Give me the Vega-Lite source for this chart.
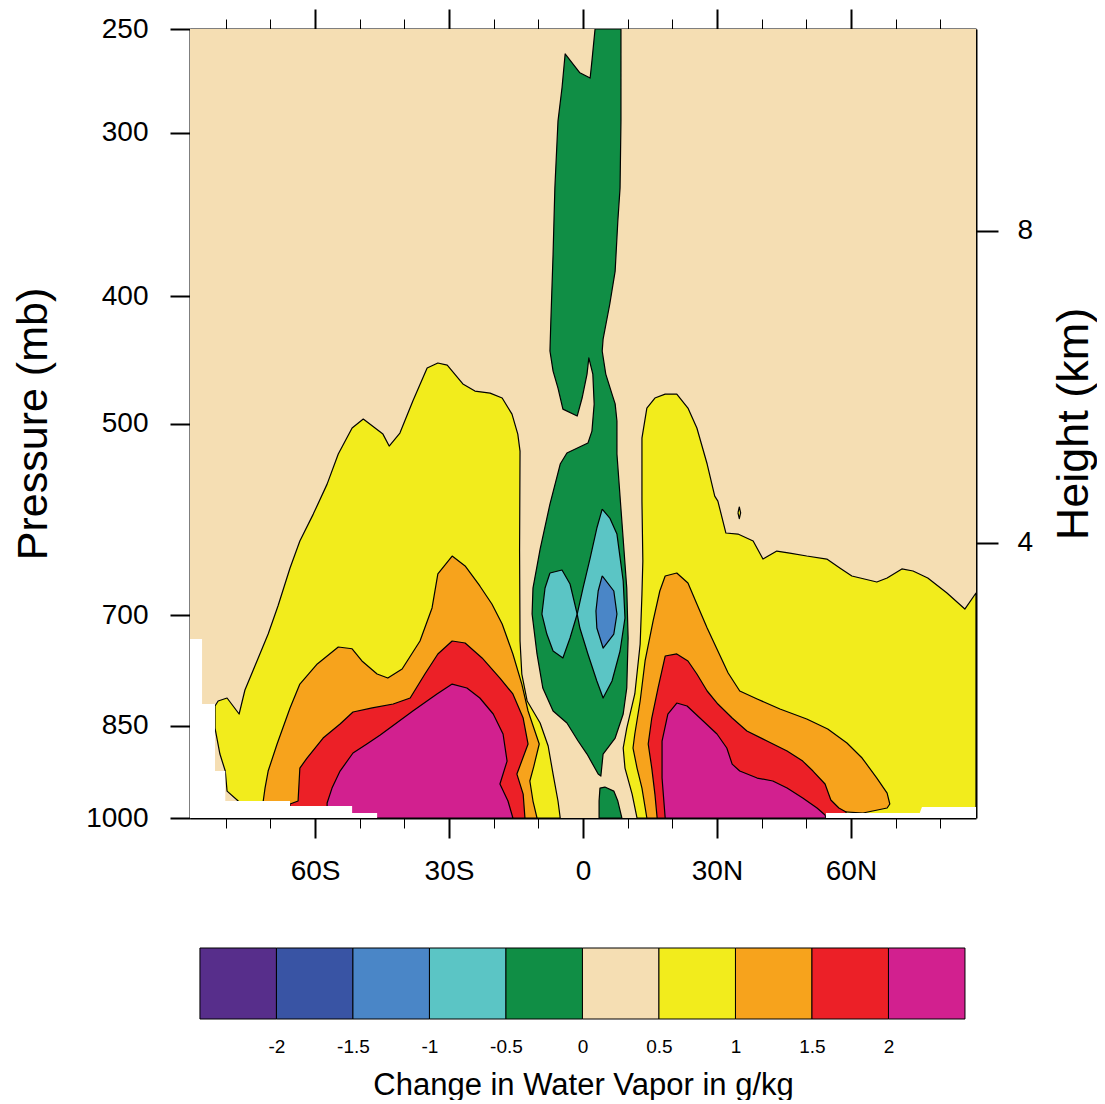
{
"$schema":"https://vega.github.io/schema/vega-lite/v6.json",
"padding":{"left":12,"top":8,"right":0,"bottom":0},
"background":"white",
"config":{"view":{"stroke":null},"font":"Liberation Sans","axis":{"labelColor":"black","titleColor":"black","tickColor":"black","domainColor":"black","grid":false}},
"datasets":{
"bg":[{"a":-88,"b":88,"p0":250,"p1":1000}],
"bins":[{"lo":-2.5,"hi":-2,"c":"purple"},{"lo":-2,"hi":-1.5,"c":"darkblue"},{"lo":-1.5,"hi":-1,"c":"blue"},{"lo":-1,"hi":-0.5,"c":"cyan"},{"lo":-0.5,"hi":0,"c":"green"},{"lo":0,"hi":0.5,"c":"wheat"},{"lo":0.5,"hi":1,"c":"yellow"},{"lo":1,"hi":1.5,"c":"orange"},{"lo":1.5,"hi":2,"c":"red"},{"lo":2,"hi":2.5,"c":"magenta"}],
"miss":[
{"id":"w1","i":0,"lat":-88,"p":730.1},{"id":"w1","i":1,"lat":-85.3,"p":730.1},{"id":"w1","i":2,"lat":-85.3,"p":818.5},{"id":"w1","i":3,"lat":-82.4,"p":818.5},{"id":"w1","i":4,"lat":-82.4,"p":920.8},{"id":"w1","i":5,"lat":-80.1,"p":920.8},{"id":"w1","i":6,"lat":-80.1,"p":970.6},{"id":"w1","i":7,"lat":-65.6,"p":970.6},{"id":"w1","i":8,"lat":-65.6,"p":979.1},{"id":"w1","i":9,"lat":-51.7,"p":979.1},{"id":"w1","i":10,"lat":-51.7,"p":991.3},{"id":"w1","i":11,"lat":-46.1,"p":991.3},{"id":"w1","i":12,"lat":-46.1,"p":1000},{"id":"w1","i":13,"lat":-88,"p":1000},
{"id":"w2","i":0,"lat":54.4,"p":991.3},{"id":"w2","i":1,"lat":75.4,"p":991.3},{"id":"w2","i":2,"lat":75.9,"p":980.8},{"id":"w2","i":3,"lat":88,"p":980.8},{"id":"w2","i":4,"lat":88,"p":1000},{"id":"w2","i":5,"lat":54.4,"p":1000}
],
"poly":[
{"id":"01","c":"yellow","i":0,"lat":-77.2,"p":1000},{"id":"01","c":"yellow","i":1,"lat":-77.2,"p":970.6},{"id":"01","c":"yellow","i":2,"lat":-79.7,"p":953.8},{"id":"01","c":"yellow","i":3,"lat":-80.1,"p":920.8},{"id":"01","c":"yellow","i":4,"lat":-81.3,"p":893.7},{"id":"01","c":"yellow","i":5,"lat":-82.4,"p":853.8},{"id":"01","c":"yellow","i":6,"lat":-82.4,"p":821.4},{"id":"01","c":"yellow","i":7,"lat":-81.7,"p":814.2},{"id":"01","c":"yellow","i":8,"lat":-79.7,"p":809.9},{"id":"01","c":"yellow","i":9,"lat":-77.0,"p":833.0},{"id":"01","c":"yellow","i":10,"lat":-75.7,"p":798.6},{"id":"01","c":"yellow","i":11,"lat":-73.0,"p":758.9},{"id":"01","c":"yellow","i":12,"lat":-70.5,"p":723.8},{"id":"01","c":"yellow","i":13,"lat":-68.3,"p":689.0},{"id":"01","c":"yellow","i":14,"lat":-65.6,"p":644.5},{"id":"01","c":"yellow","i":15,"lat":-63.4,"p":614.7},{"id":"01","c":"yellow","i":16,"lat":-60.4,"p":586.3},{"id":"01","c":"yellow","i":17,"lat":-57.3,"p":556.2},{"id":"01","c":"yellow","i":18,"lat":-54.8,"p":527.6},{"id":"01","c":"yellow","i":19,"lat":-51.7,"p":504.0},{"id":"01","c":"yellow","i":20,"lat":-49.2,"p":496.1},{"id":"01","c":"yellow","i":21,"lat":-44.8,"p":509.4},{"id":"01","c":"yellow","i":22,"lat":-43.4,"p":520.2},{"id":"01","c":"yellow","i":23,"lat":-41.0,"p":508.5},{"id":"01","c":"yellow","i":24,"lat":-38.1,"p":480.6},{"id":"01","c":"yellow","i":25,"lat":-34.9,"p":453.6},{"id":"01","c":"yellow","i":26,"lat":-32.5,"p":449.6},{"id":"01","c":"yellow","i":27,"lat":-30.4,"p":451.2},{"id":"01","c":"yellow","i":28,"lat":-26.9,"p":466.4},{"id":"01","c":"yellow","i":29,"lat":-24.2,"p":472.3},{"id":"01","c":"yellow","i":30,"lat":-20.8,"p":474.0},{"id":"01","c":"yellow","i":31,"lat":-18.1,"p":478.1},{"id":"01","c":"yellow","i":32,"lat":-15.9,"p":491.8},{"id":"01","c":"yellow","i":33,"lat":-14.6,"p":509.4},{"id":"01","c":"yellow","i":34,"lat":-14.1,"p":524.8},{"id":"01","c":"yellow","i":35,"lat":-14.2,"p":625.6},{"id":"01","c":"yellow","i":36,"lat":-14.1,"p":732.7},{"id":"01","c":"yellow","i":37,"lat":-13.7,"p":776.5},{"id":"01","c":"yellow","i":38,"lat":-12.5,"p":814.2},{"id":"01","c":"yellow","i":39,"lat":-9.6,"p":846.3},{"id":"01","c":"yellow","i":40,"lat":-7.8,"p":881.2},{"id":"01","c":"yellow","i":41,"lat":-6.7,"p":925.7},{"id":"01","c":"yellow","i":42,"lat":-5.6,"p":970.6},{"id":"01","c":"yellow","i":43,"lat":-5.1,"p":1000},{"id":"01","c":"yellow","i":44,"lat":-77.2,"p":1000},
{"id":"02","c":"yellow","i":0,"lat":12.1,"p":1000},{"id":"02","c":"yellow","i":1,"lat":11.0,"p":958.8},{"id":"02","c":"yellow","i":2,"lat":9.4,"p":916.0},{"id":"02","c":"yellow","i":3,"lat":9.0,"p":884.3},{"id":"02","c":"yellow","i":4,"lat":9.8,"p":853.8},{"id":"02","c":"yellow","i":5,"lat":11.6,"p":804.2},{"id":"02","c":"yellow","i":6,"lat":12.8,"p":736.6},{"id":"02","c":"yellow","i":7,"lat":13.2,"p":674.6},{"id":"02","c":"yellow","i":8,"lat":13.4,"p":636.7},{"id":"02","c":"yellow","i":9,"lat":13.2,"p":573.0},{"id":"02","c":"yellow","i":10,"lat":13.2,"p":513.0},{"id":"02","c":"yellow","i":11,"lat":14.3,"p":486.6},{"id":"02","c":"yellow","i":12,"lat":16.1,"p":478.1},{"id":"02","c":"yellow","i":13,"lat":18.4,"p":474.8},{"id":"02","c":"yellow","i":14,"lat":21.0,"p":474.8},{"id":"02","c":"yellow","i":15,"lat":23.5,"p":486.6},{"id":"02","c":"yellow","i":16,"lat":25.5,"p":504.0},{"id":"02","c":"yellow","i":17,"lat":27.8,"p":536.9},{"id":"02","c":"yellow","i":18,"lat":29.5,"p":568.0},{"id":"02","c":"yellow","i":19,"lat":30.2,"p":573.0},{"id":"02","c":"yellow","i":20,"lat":32.0,"p":606.1},{"id":"02","c":"yellow","i":21,"lat":34.7,"p":607.2},{"id":"02","c":"yellow","i":22,"lat":38.1,"p":614.7},{"id":"02","c":"yellow","i":23,"lat":40.3,"p":634.5},{"id":"02","c":"yellow","i":24,"lat":43.4,"p":625.6},{"id":"02","c":"yellow","i":25,"lat":46.3,"p":627.8},{"id":"02","c":"yellow","i":26,"lat":50.1,"p":631.1},{"id":"02","c":"yellow","i":27,"lat":54.6,"p":634.5},{"id":"02","c":"yellow","i":28,"lat":57.5,"p":644.5},{"id":"02","c":"yellow","i":29,"lat":60.2,"p":653.6},{"id":"02","c":"yellow","i":30,"lat":65.8,"p":660.6},{"id":"02","c":"yellow","i":31,"lat":68.1,"p":655.9},{"id":"02","c":"yellow","i":32,"lat":71.4,"p":645.6},{"id":"02","c":"yellow","i":33,"lat":73.9,"p":647.9},{"id":"02","c":"yellow","i":34,"lat":77.2,"p":655.9},{"id":"02","c":"yellow","i":35,"lat":81.5,"p":673.5},{"id":"02","c":"yellow","i":36,"lat":85.5,"p":692.7},{"id":"02","c":"yellow","i":37,"lat":88.0,"p":673.5},{"id":"02","c":"yellow","i":38,"lat":88.0,"p":1000},{"id":"02","c":"yellow","i":39,"lat":12.1,"p":1000},
{"id":"03","c":"yellow","i":0,"lat":34.7,"p":585},{"id":"03","c":"yellow","i":1,"lat":35.0,"p":579},{"id":"03","c":"yellow","i":2,"lat":35.3,"p":585},{"id":"03","c":"yellow","i":3,"lat":35.0,"p":591},{"id":"03","c":"yellow","i":4,"lat":34.7,"p":585},
{"id":"04","c":"orange","i":0,"lat":-71.6,"p":1000},{"id":"04","c":"orange","i":1,"lat":-71.6,"p":970.6},{"id":"04","c":"orange","i":2,"lat":-71.2,"p":948.8},{"id":"04","c":"orange","i":3,"lat":-70.5,"p":920.8},{"id":"04","c":"orange","i":4,"lat":-68.5,"p":878.1},{"id":"04","c":"orange","i":5,"lat":-65.6,"p":824.2},{"id":"04","c":"orange","i":6,"lat":-63.4,"p":790.3},{"id":"04","c":"orange","i":7,"lat":-59.5,"p":762.9},{"id":"04","c":"orange","i":8,"lat":-54.8,"p":740.5},{"id":"04","c":"orange","i":9,"lat":-51.7,"p":742.8},{"id":"04","c":"orange","i":10,"lat":-49.5,"p":758.9},{"id":"04","c":"orange","i":11,"lat":-46.1,"p":776.5},{"id":"04","c":"orange","i":12,"lat":-43.7,"p":782.0},{"id":"04","c":"orange","i":13,"lat":-40.5,"p":769.7},{"id":"04","c":"orange","i":14,"lat":-36.5,"p":732.7},{"id":"04","c":"orange","i":15,"lat":-33.8,"p":691.4},{"id":"04","c":"orange","i":16,"lat":-32.5,"p":651.3},{"id":"04","c":"orange","i":17,"lat":-29.3,"p":631.1},{"id":"04","c":"orange","i":18,"lat":-26.4,"p":642.2},{"id":"04","c":"orange","i":19,"lat":-23.1,"p":665.2},{"id":"04","c":"orange","i":20,"lat":-20.4,"p":686.6},{"id":"04","c":"orange","i":21,"lat":-18.1,"p":711.1},{"id":"04","c":"orange","i":22,"lat":-15.7,"p":749.6},{"id":"04","c":"orange","i":23,"lat":-13.7,"p":790.3},{"id":"04","c":"orange","i":24,"lat":-12.3,"p":828.6},{"id":"04","c":"orange","i":25,"lat":-9.8,"p":878.1},{"id":"04","c":"orange","i":26,"lat":-11.0,"p":912.8},{"id":"04","c":"orange","i":27,"lat":-11.9,"p":937.1},{"id":"04","c":"orange","i":28,"lat":-11.2,"p":970.6},{"id":"04","c":"orange","i":29,"lat":-10.3,"p":1000},{"id":"04","c":"orange","i":30,"lat":-71.6,"p":1000},
{"id":"05","c":"orange","i":0,"lat":14.3,"p":1000},{"id":"05","c":"orange","i":1,"lat":13.2,"p":948.8},{"id":"05","c":"orange","i":2,"lat":12.1,"p":916.0},{"id":"05","c":"orange","i":3,"lat":11.2,"p":884.3},{"id":"05","c":"orange","i":4,"lat":11.6,"p":862.8},{"id":"05","c":"orange","i":5,"lat":12.8,"p":814.2},{"id":"05","c":"orange","i":6,"lat":13.9,"p":758.9},{"id":"05","c":"orange","i":7,"lat":15.7,"p":707.4},{"id":"05","c":"orange","i":8,"lat":17.2,"p":671.1},{"id":"05","c":"orange","i":9,"lat":18.4,"p":653.6},{"id":"05","c":"orange","i":10,"lat":21.0,"p":650.2},{"id":"05","c":"orange","i":11,"lat":23.5,"p":661.7},{"id":"05","c":"orange","i":12,"lat":25.5,"p":686.6},{"id":"05","c":"orange","i":13,"lat":27.8,"p":716.2},{"id":"05","c":"orange","i":14,"lat":30.2,"p":745.7},{"id":"05","c":"orange","i":15,"lat":32.5,"p":775.1},{"id":"05","c":"orange","i":16,"lat":35.1,"p":800.0},{"id":"05","c":"orange","i":17,"lat":39.0,"p":811.3},{"id":"05","c":"orange","i":18,"lat":44.1,"p":825.7},{"id":"05","c":"orange","i":19,"lat":50.1,"p":840.3},{"id":"05","c":"orange","i":20,"lat":54.8,"p":855.3},{"id":"05","c":"orange","i":21,"lat":59.1,"p":876.6},{"id":"05","c":"orange","i":22,"lat":62.5,"p":900.0},{"id":"05","c":"orange","i":23,"lat":65.8,"p":932.2},{"id":"05","c":"orange","i":24,"lat":68.1,"p":957.2},{"id":"05","c":"orange","i":25,"lat":68.7,"p":975.7},{"id":"05","c":"orange","i":26,"lat":68.1,"p":982.6},{"id":"05","c":"orange","i":27,"lat":62.7,"p":991.3},{"id":"05","c":"orange","i":28,"lat":56.0,"p":987.8},{"id":"05","c":"orange","i":29,"lat":54.4,"p":1000},{"id":"05","c":"orange","i":30,"lat":14.3,"p":1000},
{"id":"06","c":"red","i":0,"lat":-65.6,"p":1000},{"id":"06","c":"red","i":1,"lat":-65.6,"p":975.7},{"id":"06","c":"red","i":2,"lat":-63.8,"p":970.6},{"id":"06","c":"red","i":3,"lat":-63.4,"p":916.0},{"id":"06","c":"red","i":4,"lat":-61.8,"p":900.0},{"id":"06","c":"red","i":5,"lat":-58.2,"p":868.9},{"id":"06","c":"red","i":6,"lat":-54.4,"p":847.8},{"id":"06","c":"red","i":7,"lat":-51.5,"p":830.1},{"id":"06","c":"red","i":8,"lat":-47.2,"p":824.2},{"id":"06","c":"red","i":9,"lat":-42.5,"p":818.5},{"id":"06","c":"red","i":10,"lat":-38.7,"p":809.9},{"id":"06","c":"red","i":11,"lat":-35.4,"p":776.5},{"id":"06","c":"red","i":12,"lat":-32.5,"p":749.6},{"id":"06","c":"red","i":13,"lat":-29.3,"p":732.7},{"id":"06","c":"red","i":14,"lat":-26.4,"p":735.3},{"id":"06","c":"red","i":15,"lat":-22.6,"p":754.9},{"id":"06","c":"red","i":16,"lat":-18.6,"p":782.0},{"id":"06","c":"red","i":17,"lat":-15.7,"p":804.2},{"id":"06","c":"red","i":18,"lat":-13.4,"p":838.9},{"id":"06","c":"red","i":19,"lat":-12.3,"p":878.1},{"id":"06","c":"red","i":20,"lat":-14.8,"p":925.7},{"id":"06","c":"red","i":21,"lat":-13.4,"p":958.8},{"id":"06","c":"red","i":22,"lat":-13.0,"p":1000},{"id":"06","c":"red","i":23,"lat":-65.6,"p":1000},
{"id":"07","c":"red","i":0,"lat":16.6,"p":1000},{"id":"07","c":"red","i":1,"lat":16.1,"p":958.8},{"id":"07","c":"red","i":2,"lat":15.4,"p":916.0},{"id":"07","c":"red","i":3,"lat":14.6,"p":878.1},{"id":"07","c":"red","i":4,"lat":15.4,"p":838.9},{"id":"07","c":"red","i":5,"lat":16.8,"p":795.8},{"id":"07","c":"red","i":6,"lat":18.4,"p":752.3},{"id":"07","c":"red","i":7,"lat":21.0,"p":749.6},{"id":"07","c":"red","i":8,"lat":23.5,"p":758.9},{"id":"07","c":"red","i":9,"lat":25.5,"p":776.5},{"id":"07","c":"red","i":10,"lat":27.8,"p":800.0},{"id":"07","c":"red","i":11,"lat":30.2,"p":818.5},{"id":"07","c":"red","i":12,"lat":33.4,"p":838.9},{"id":"07","c":"red","i":13,"lat":36.7,"p":858.3},{"id":"07","c":"red","i":14,"lat":41.2,"p":873.5},{"id":"07","c":"red","i":15,"lat":45.7,"p":889.0},{"id":"07","c":"red","i":16,"lat":49.2,"p":904.8},{"id":"07","c":"red","i":17,"lat":51.5,"p":920.8},{"id":"07","c":"red","i":18,"lat":54.2,"p":942.0},{"id":"07","c":"red","i":19,"lat":55.5,"p":968.9},{"id":"07","c":"red","i":20,"lat":57.3,"p":982.6},{"id":"07","c":"red","i":21,"lat":58.9,"p":989.5},{"id":"07","c":"red","i":22,"lat":58.9,"p":1000},{"id":"07","c":"red","i":23,"lat":16.6,"p":1000},
{"id":"08","c":"magenta","i":0,"lat":-57.3,"p":1000},{"id":"08","c":"magenta","i":1,"lat":-57.3,"p":974.0},{"id":"08","c":"magenta","i":2,"lat":-56.2,"p":948.8},{"id":"08","c":"magenta","i":3,"lat":-54.4,"p":920.8},{"id":"08","c":"magenta","i":4,"lat":-51.5,"p":892.1},{"id":"08","c":"magenta","i":5,"lat":-48.4,"p":878.1},{"id":"08","c":"magenta","i":6,"lat":-45.4,"p":864.3},{"id":"08","c":"magenta","i":7,"lat":-38.1,"p":828.6},{"id":"08","c":"magenta","i":8,"lat":-32.7,"p":804.2},{"id":"08","c":"magenta","i":9,"lat":-29.3,"p":790.3},{"id":"08","c":"magenta","i":10,"lat":-26.0,"p":795.8},{"id":"08","c":"magenta","i":11,"lat":-23.1,"p":809.9},{"id":"08","c":"magenta","i":12,"lat":-20.1,"p":833.0},{"id":"08","c":"magenta","i":13,"lat":-17.9,"p":862.8},{"id":"08","c":"magenta","i":14,"lat":-17.0,"p":904.8},{"id":"08","c":"magenta","i":15,"lat":-18.6,"p":942.0},{"id":"08","c":"magenta","i":16,"lat":-16.8,"p":970.6},{"id":"08","c":"magenta","i":17,"lat":-15.7,"p":1000},{"id":"08","c":"magenta","i":18,"lat":-57.3,"p":1000},
{"id":"09","c":"magenta","i":0,"lat":18.4,"p":1000},{"id":"09","c":"magenta","i":1,"lat":17.7,"p":932.2},{"id":"09","c":"magenta","i":2,"lat":17.7,"p":873.5},{"id":"09","c":"magenta","i":3,"lat":19.0,"p":833.0},{"id":"09","c":"magenta","i":4,"lat":21.0,"p":817.1},{"id":"09","c":"magenta","i":5,"lat":23.3,"p":821.4},{"id":"09","c":"magenta","i":6,"lat":26.9,"p":843.3},{"id":"09","c":"magenta","i":7,"lat":30.0,"p":862.8},{"id":"09","c":"magenta","i":8,"lat":32.2,"p":884.3},{"id":"09","c":"magenta","i":9,"lat":33.4,"p":909.6},{"id":"09","c":"magenta","i":10,"lat":35.1,"p":920.8},{"id":"09","c":"magenta","i":11,"lat":39.0,"p":932.2},{"id":"09","c":"magenta","i":12,"lat":42.5,"p":937.1},{"id":"09","c":"magenta","i":13,"lat":45.7,"p":948.8},{"id":"09","c":"magenta","i":14,"lat":49.2,"p":965.5},{"id":"09","c":"magenta","i":15,"lat":52.4,"p":982.6},{"id":"09","c":"magenta","i":16,"lat":54.2,"p":994.8},{"id":"09","c":"magenta","i":17,"lat":54.4,"p":1000},{"id":"09","c":"magenta","i":18,"lat":18.4,"p":1000},
{"id":"10","c":"green","i":0,"lat":2.7,"p":250},{"id":"10","c":"green","i":1,"lat":2.0,"p":264.4},{"id":"10","c":"green","i":2,"lat":1.6,"p":272.5},{"id":"10","c":"green","i":3,"lat":-0.7,"p":270.0},{"id":"10","c":"green","i":4,"lat":-4.0,"p":261.2},{"id":"10","c":"green","i":5,"lat":-4.7,"p":277.2},{"id":"10","c":"green","i":6,"lat":-5.6,"p":293.9},{"id":"10","c":"green","i":7,"lat":-6.3,"p":330.5},{"id":"10","c":"green","i":8,"lat":-6.7,"p":371.3},{"id":"10","c":"green","i":9,"lat":-7.2,"p":417.6},{"id":"10","c":"green","i":10,"lat":-7.4,"p":440.2},{"id":"10","c":"green","i":11,"lat":-6.7,"p":456.0},{"id":"10","c":"green","i":12,"lat":-5.6,"p":469.8},{"id":"10","c":"green","i":13,"lat":-4.5,"p":487.5},{"id":"10","c":"green","i":14,"lat":-1.3,"p":493.5},{"id":"10","c":"green","i":15,"lat":-0.2,"p":478.1},{"id":"10","c":"green","i":16,"lat":0.9,"p":458.4},{"id":"10","c":"green","i":17,"lat":1.3,"p":445.6},{"id":"10","c":"green","i":18,"lat":2.2,"p":458.4},{"id":"10","c":"green","i":19,"lat":2.5,"p":483.1},{"id":"10","c":"green","i":20,"lat":2.0,"p":506.7},{"id":"10","c":"green","i":21,"lat":1.1,"p":517.5},{"id":"10","c":"green","i":22,"lat":-3.6,"p":526.6},{"id":"10","c":"green","i":23,"lat":-5.1,"p":536.9},{"id":"10","c":"green","i":24,"lat":-7.4,"p":576.0},{"id":"10","c":"green","i":25,"lat":-9.6,"p":623.4},{"id":"10","c":"green","i":26,"lat":-11.2,"p":667.6},{"id":"10","c":"green","i":27,"lat":-11.4,"p":698.8},{"id":"10","c":"green","i":28,"lat":-10.3,"p":749.6},{"id":"10","c":"green","i":29,"lat":-9.0,"p":795.8},{"id":"10","c":"green","i":30,"lat":-6.7,"p":828.6},{"id":"10","c":"green","i":31,"lat":-3.6,"p":846.3},{"id":"10","c":"green","i":32,"lat":-1.1,"p":873.5},{"id":"10","c":"green","i":33,"lat":0.9,"p":893.7},{"id":"10","c":"green","i":34,"lat":3.4,"p":925.7},{"id":"10","c":"green","i":35,"lat":4.0,"p":928.9},{"id":"10","c":"green","i":36,"lat":4.5,"p":893.7},{"id":"10","c":"green","i":37,"lat":7.2,"p":868.9},{"id":"10","c":"green","i":38,"lat":9.0,"p":833.0},{"id":"10","c":"green","i":39,"lat":9.8,"p":795.8},{"id":"10","c":"green","i":40,"lat":10.1,"p":728.9},{"id":"10","c":"green","i":41,"lat":9.8,"p":667.6},{"id":"10","c":"green","i":42,"lat":8.7,"p":593.5},{"id":"10","c":"green","i":43,"lat":7.6,"p":527.6},{"id":"10","c":"green","i":44,"lat":7.6,"p":497.8},{"id":"10","c":"green","i":45,"lat":7.2,"p":483.1},{"id":"10","c":"green","i":46,"lat":6.5,"p":474.8},{"id":"10","c":"green","i":47,"lat":5.1,"p":458.4},{"id":"10","c":"green","i":48,"lat":4.3,"p":440.2},{"id":"10","c":"green","i":49,"lat":4.5,"p":431.1},{"id":"10","c":"green","i":50,"lat":6.0,"p":405.3},{"id":"10","c":"green","i":51,"lat":7.2,"p":382.5},{"id":"10","c":"green","i":52,"lat":7.8,"p":350.3},{"id":"10","c":"green","i":53,"lat":8.3,"p":330.5},{"id":"10","c":"green","i":54,"lat":8.5,"p":293.9},{"id":"10","c":"green","i":55,"lat":8.5,"p":250},{"id":"10","c":"green","i":56,"lat":2.7,"p":250},
{"id":"11","c":"green","i":0,"lat":3.6,"p":1000},{"id":"11","c":"green","i":1,"lat":3.6,"p":970.6},{"id":"11","c":"green","i":2,"lat":3.8,"p":948.8},{"id":"11","c":"green","i":3,"lat":4.9,"p":947.1},{"id":"11","c":"green","i":4,"lat":6.9,"p":953.8},{"id":"11","c":"green","i":5,"lat":7.8,"p":970.6},{"id":"11","c":"green","i":6,"lat":8.7,"p":1000},{"id":"11","c":"green","i":7,"lat":3.6,"p":1000},
{"id":"12","c":"cyan","i":0,"lat":-7.4,"p":650.2},{"id":"12","c":"cyan","i":1,"lat":-4.7,"p":646.8},{"id":"12","c":"cyan","i":2,"lat":-2.9,"p":662.9},{"id":"12","c":"cyan","i":3,"lat":-1.3,"p":698.8},{"id":"12","c":"cyan","i":4,"lat":-2.9,"p":728.9},{"id":"12","c":"cyan","i":5,"lat":-4.5,"p":754.9},{"id":"12","c":"cyan","i":6,"lat":-6.7,"p":745.7},{"id":"12","c":"cyan","i":7,"lat":-8.1,"p":723.8},{"id":"12","c":"cyan","i":8,"lat":-9.2,"p":698.8},{"id":"12","c":"cyan","i":9,"lat":-8.5,"p":667.6},{"id":"12","c":"cyan","i":10,"lat":-7.4,"p":650.2},
{"id":"13","c":"cyan","i":0,"lat":4.3,"p":581.2},{"id":"13","c":"cyan","i":1,"lat":6.0,"p":590.4},{"id":"13","c":"cyan","i":2,"lat":7.6,"p":607.2},{"id":"13","c":"cyan","i":3,"lat":9.0,"p":659.4},{"id":"13","c":"cyan","i":4,"lat":9.4,"p":703.7},{"id":"13","c":"cyan","i":5,"lat":8.3,"p":745.7},{"id":"13","c":"cyan","i":6,"lat":6.5,"p":786.1},{"id":"13","c":"cyan","i":7,"lat":4.5,"p":809.9},{"id":"13","c":"cyan","i":8,"lat":3.1,"p":786.1},{"id":"13","c":"cyan","i":9,"lat":1.1,"p":749.6},{"id":"13","c":"cyan","i":10,"lat":-0.7,"p":716.2},{"id":"13","c":"cyan","i":11,"lat":-1.3,"p":698.8},{"id":"13","c":"cyan","i":12,"lat":0.0,"p":667.6},{"id":"13","c":"cyan","i":13,"lat":1.6,"p":633.4},{"id":"13","c":"cyan","i":14,"lat":3.1,"p":600.8},{"id":"13","c":"cyan","i":15,"lat":4.3,"p":581.2},
{"id":"14","c":"blue","i":0,"lat":4.3,"p":653.6},{"id":"14","c":"blue","i":1,"lat":6.9,"p":671.1},{"id":"14","c":"blue","i":2,"lat":7.6,"p":698.8},{"id":"14","c":"blue","i":3,"lat":6.9,"p":723.8},{"id":"14","c":"blue","i":4,"lat":4.5,"p":741.8},{"id":"14","c":"blue","i":5,"lat":3.1,"p":716.2},{"id":"14","c":"blue","i":6,"lat":2.9,"p":695.1},{"id":"14","c":"blue","i":7,"lat":3.4,"p":671.1},{"id":"14","c":"blue","i":8,"lat":4.3,"p":653.6}
]
},
"resolve":{"scale":{"x":"independent","fill":"independent"}},
"spacing":62,
"vconcat":[
{
"width":786,"height":789,
"layer":[
{
"data":{"name":"bg"},
"mark":{"type":"rect","color":"#f5deb3"},
"encoding":{
"x":{"field":"a","type":"quantitative","scale":{"domain":[-88,88],"nice":false,"zero":false},
"axis":{"orient":"bottom","values":[-80,-70,-60,-50,-40,-30,-20,-10,0,10,20,30,40,50,60,70,80],
"labelExpr":"datum.value % 30 != 0 ? '' : (datum.value < 0 ? (-datum.value) + 'S' : (datum.value > 0 ? datum.value + 'N' : '0'))",
"tickSize":{"condition":{"test":"datum.value % 30 == 0","value":20},"value":10},
"tickWidth":{"condition":{"test":"datum.value % 30 == 0","value":2},"value":1},
"domainWidth":2,"labelFontSize":28,"labelPadding":19,"labelFlush":false,"labelOverlap":false,"title":null}},
"x2":{"field":"b"},
"y":{"field":"p0","type":"quantitative","scale":{"type":"log","domain":[250,1000],"reverse":true,"nice":false},
"axis":{"orient":"left","values":[250,300,400,500,700,850,1000],"format":"d","tickSize":20,"tickWidth":2,"domainWidth":2,"labelFontSize":28,"labelPadding":22,"labelFlush":false,"labelOverlap":false,
"title":"Pressure (mb)","titleFontSize":43,"titleFontWeight":"normal","titlePadding":30}},
"y2":{"field":"p1"}
}
},
{
"data":{"name":"poly"},
"mark":{"type":"line","stroke":"black","strokeWidth":1.2,"clip":true,"strokeJoin":"round"},
"encoding":{
"x":{"field":"lat","type":"quantitative","scale":{"domain":[-88,88],"nice":false,"zero":false},
"axis":{"orient":"top","values":[-80,-70,-60,-50,-40,-30,-20,-10,0,10,20,30,40,50,60,70,80],"labels":false,
"tickSize":{"condition":{"test":"datum.value % 30 == 0","value":20},"value":10},
"tickWidth":{"condition":{"test":"datum.value % 30 == 0","value":2},"value":1},
"domainWidth":2,"title":null}},
"y":{"field":"p","type":"quantitative","scale":{"type":"log","domain":[250,1000],"reverse":true,"nice":false},
"axis":{"orient":"right","values":[356.5,616.6],"labelExpr":"datum.value < 500 ? '8' : '4'","tickSize":22,"tickWidth":2,"domainWidth":2,"labelFontSize":28,"labelPadding":19,
"title":"Height (km)","titleFontSize":45,"titleFontWeight":"normal","titleAngle":270,"titleBaseline":"top","titlePadding":19}},
"order":{"field":"i","type":"quantitative"},
"detail":{"field":"id","type":"nominal"},
"fill":{"field":"c","type":"nominal","legend":null,
"scale":{"domain":["purple","darkblue","blue","cyan","green","wheat","yellow","orange","red","magenta"],
"range":["#572e8b","#3954a4","#4a86c7","#5bc5c5","#108e45","#f5deb3","#f2ec1c","#f7a31c","#ec2027","#d2208f"]}}
}
},
{
"data":{"name":"miss"},
"mark":{"type":"line","fill":"white","stroke":"white","strokeWidth":0,"clip":true},
"encoding":{
"x":{"field":"lat","type":"quantitative","axis":null},
"y":{"field":"p","type":"quantitative","axis":null},
"order":{"field":"i","type":"quantitative"},
"detail":{"field":"id","type":"nominal"}
}
}
],
"resolve":{"axis":{"x":"independent","y":"independent"}}
},
{
"width":786,"height":71,
"data":{"name":"bins"},
"mark":{"type":"rect","stroke":"black","strokeWidth":1},
"encoding":{
"x":{"field":"lo","type":"quantitative","scale":{"domain":[-2.565,2.572],"nice":false,"zero":false},
"axis":{"orient":"bottom","values":[-2,-1.5,-1,-0.5,0,0.5,1,1.5,2],"labelExpr":"'' + datum.value","ticks":false,"domain":false,"labelFontSize":19,"labelPadding":18,
"title":"Change in Water Vapor in g/kg","titleFontSize":31,"titleFontWeight":"normal","titlePadding":14}},
"x2":{"field":"hi"},
"fill":{"field":"c","type":"nominal","legend":null,
"scale":{"domain":["purple","darkblue","blue","cyan","green","wheat","yellow","orange","red","magenta"],
"range":["#572e8b","#3954a4","#4a86c7","#5bc5c5","#108e45","#f5deb3","#f2ec1c","#f7a31c","#ec2027","#d2208f"]}}
}
}
]
}
